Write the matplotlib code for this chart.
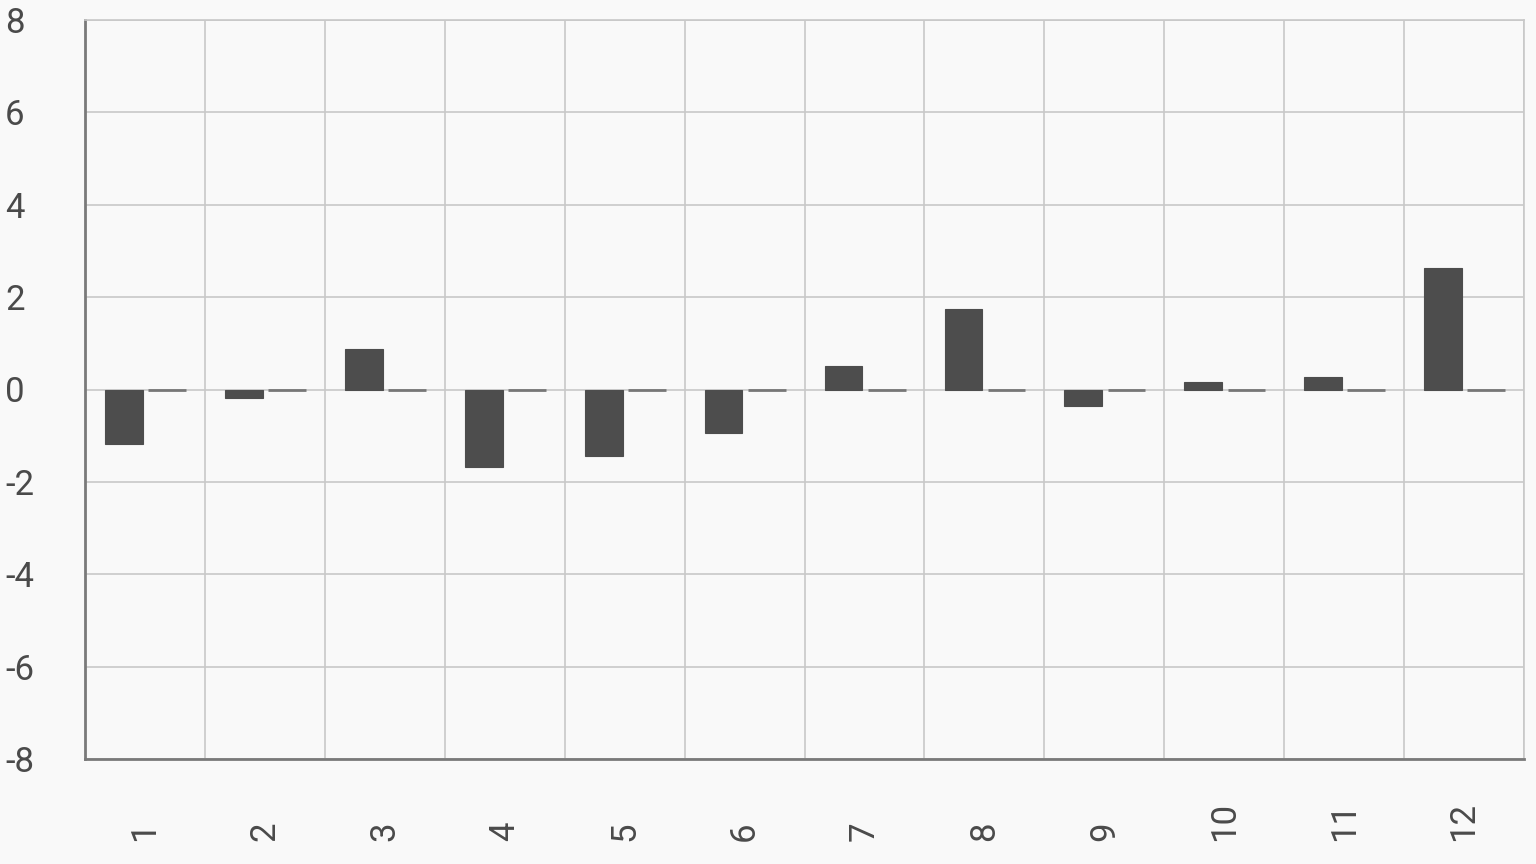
import matplotlib.pyplot as plt
import numpy as np

categories = ["1", "2", "3", "4", "5", "6", "7", "8", "9", "10", "11", "12"]
series_a = [-1.17, -0.19, 0.88, -1.67, -1.45, -0.95, 0.5, 1.75, -0.35, 0.17, 0.27, 2.62]
series_b = [0, 0, 0, 0, 0, 0, 0, 0, 0, 0, 0, 0]
y_ticks = [-8, -6, -4, -2, 0, 2, 4, 6, 8]

plt.rcParams['font.family'] = ['Roboto', 'DejaVu Sans']
bg = "#f9f9f9"
fig = plt.figure(figsize=(15.36, 8.64), dpi=100, facecolor=bg)
ax = fig.add_axes([85/1536, 1-759/864, (1524-85)/1536, (759-20)/864], facecolor=bg)

x = np.arange(len(categories))
w = 0.315
ax.bar(x - 0.175, series_a, width=w, color="#4d4d4d", edgecolor="#4d4d4d", linewidth=0.8, zorder=3)
ax.bar(x + 0.185, series_b, width=w, color="#777777", edgecolor="#777777", linewidth=2, zorder=3)

ax.set_xlim(-0.5, len(categories) - 0.5)
ax.set_ylim(-8, 8)
ax.set_yticks(y_ticks)
ax.set_yticklabels([str(t) for t in y_ticks])
ax.set_xticks(x)
ax.set_xticklabels(categories, rotation=90)

ax.set_xticks(np.arange(len(categories) + 1) - 0.5, minor=True)
ax.grid(True, which="minor", axis="x", color="#c8c8c8", linewidth=1.2, zorder=0)
ax.grid(True, which="major", axis="y", color="#c8c8c8", linewidth=1.2, zorder=0)
ax.grid(False, which="major", axis="x")

for s in ["top", "right"]:
    ax.spines[s].set_color("#c8c8c8")
    ax.spines[s].set_linewidth(1.2)
for s in ["left", "bottom"]:
    ax.spines[s].set_color("#7a7a7a")
    ax.spines[s].set_linewidth(2)

ax.tick_params(axis="both", which="both", length=0, labelsize=25, labelcolor="#4a4a4a")
ax.tick_params(axis="y", pad=0)
ax.tick_params(axis="x", pad=82 * 72 / 100)
for lab in ax.get_yticklabels():
    lab.set_horizontalalignment("left")
    lab.set_x(-80/1439)
for lab in ax.get_xticklabels():
    lab.set_verticalalignment("bottom")

fig.savefig("out.png", dpi=100, facecolor=bg)
